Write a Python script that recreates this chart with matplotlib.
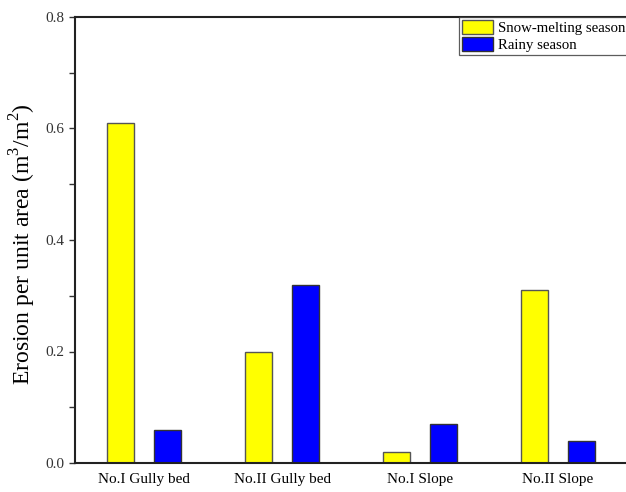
#import library
import matplotlib
matplotlib.use("Agg")
import matplotlib.pyplot as plt
from matplotlib.ticker import MultipleLocator

plt.rcParams["font.family"] = ["Liberation Serif", "DejaVu Serif"]
plt.rcParams["mathtext.fontset"] = "custom"
plt.rcParams["mathtext.rm"] = "Liberation Serif"

#define datasets
sites = ["No.I Gully bed", "No.II Gully bed", "No.I Slope", "No.II Slope"]
snow_melting = [0.61, 0.20, 0.02, 0.31]
rainy = [0.06, 0.32, 0.07, 0.04]

positions = [1, 2, 3, 4]
bar_width = 0.2
offset = 0.17

#define fig and plot size (axes run past the right edge, as in the source figure)
fig = plt.figure(figsize=(6.26, 4.92), dpi=100)
ax_left, ax_right = 75, 640
ax = fig.add_axes([ax_left / 626, 29 / 492, (ax_right - ax_left) / 626, 446 / 492])

#snow-melting bars
ax.bar(
    [p - offset for p in positions],
    snow_melting,
    width=bar_width,
    color="#ffff00",
    edgecolor="#555555",
    linewidth=1,
    label="Snow-melting season"
)

#rainy season bars
ax.bar(
    [p + offset for p in positions],
    rainy,
    width=bar_width,
    color="#0000ff",
    edgecolor="#333333",
    linewidth=1,
    label="Rainy season"
)

#axes
ax.set_xlim(0.5, 0.5 + (ax_right - ax_left) / 138)
ax.set_ylim(0, 0.8)
ax.set_xticks(positions)
ax.set_xticklabels(sites, fontsize=11)
ax.yaxis.set_major_locator(MultipleLocator(0.2))
ax.yaxis.set_minor_locator(MultipleLocator(0.1))
ax.tick_params(axis="y", which="both", direction="out", length=4, width=1,
               labelsize=11, colors="#333333", labelcolor="#333333")
ax.tick_params(axis="x", length=0, labelsize=11, pad=7)
ax.set_ylabel("Erosion per unit area (m$^3$/m$^2$)", fontsize=17)
ax.yaxis.set_label_coords(-0.066, 0.49)
for s in ax.spines.values():
    s.set_linewidth(1.5)
    s.set_color("#222222")

#legend
leg = ax.legend(
    loc="upper left",
    bbox_to_anchor=((459 - ax_left) / (ax_right - ax_left), 1.0),
    fontsize=10.7,
    frameon=True,
    fancybox=False,
    edgecolor="#333333",
    borderpad=0.2,
    handlelength=2.1,
    handleheight=1.1,
    handletextpad=0.3,
    labelspacing=0.1,
    borderaxespad=0
)
leg.get_frame().set_linewidth(0.9)

#save
fig.savefig("out.png", dpi=100)
